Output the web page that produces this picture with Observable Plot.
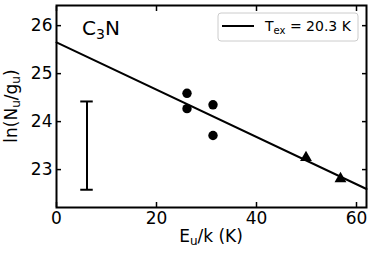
<!DOCTYPE html>
<html><head><meta charset="utf-8">
<script src="https://cdn.jsdelivr.net/npm/d3@7"></script>
<script src="https://cdn.jsdelivr.net/npm/@observablehq/plot@0.6"></script>
<style>
html,body{margin:0;padding:0;background:#fff;}
#chart{width:374px;height:257px;}
</style></head><body><div id="chart"></div>
<script>
// Data
const circleX = [26.1, 26.1, 31.3, 31.3];
const circleY = [24.59, 24.27, 24.35, 23.71];
const triX = [49.9, 56.8];
const triY = [23.25, 22.81];
const errX = [6.1];
const errLo = [22.58];
const errHi = [24.42];
const fitIntercept = 25.65;
const fitTex = 20.3;
const fitRange = [0, 62];
const xTicks = [0, 20, 40, 60];
const yTicks = [23, 24, 25, 26];

const circles = circleX.map((x, i) => ({x, y: circleY[i]}));
const tris = triX.map((x, i) => ({x, y: triY[i]}));
const errs = errX.map((x, i) => ({x, lo: errLo[i], hi: errHi[i]}));
const caps = errs.flatMap(d => [{x: d.x, y: d.lo}, {x: d.x, y: d.hi}]);
const fit = fitRange.map(x => ({x, y: fitIntercept - x / fitTex}));

const font = "DejaVu Sans, sans-serif";
const plot = Plot.plot({
  width: 374, height: 257,
  marginLeft: 56, marginRight: 8, marginTop: 5, marginBottom: 50,
  style: {fontFamily: font, fontSize: "17px", color: "black", background: "white"},
  x: {domain: [0, 62]},
  y: {domain: [22.21, 26.42]},
  marks: [
    Plot.axisX({ticks: xTicks, tickFormat: d3.format("d"), tickSize: -5, tickPadding: 9, label: null, fontSize: 17, strokeWidth: 1.5}),
    Plot.axisX({ticks: xTicks, anchor: "top", tickSize: -5, tickFormat: () => "", label: null, strokeWidth: 1.5}),
    Plot.axisY({ticks: yTicks, tickFormat: d3.format("d"), tickSize: -5, tickPadding: 9, label: null, fontSize: 17, strokeWidth: 1.5}),
    Plot.axisY({ticks: yTicks, anchor: "right", tickSize: -5, tickFormat: () => "", label: null, strokeWidth: 1.5}),
    Plot.line(fit, {x: "x", y: "y", stroke: "black", strokeWidth: 2}),
    Plot.ruleX(errs, {x: "x", y1: "lo", y2: "hi", stroke: "black", strokeWidth: 2}),
    Plot.ruleY(caps, {y: "y", x1: d => d.x - 1.25, x2: d => d.x + 1.25, stroke: "black", strokeWidth: 2}),
    Plot.dot(circles, {x: "x", y: "y", r: 4.7, fill: "black", symbol: "circle"}),
    Plot.dot(tris, {x: "x", y: "y", r: 4.4, fill: "black", symbol: "triangle"}),
    Plot.frame({stroke: "black", strokeWidth: 2})
  ]
});
document.getElementById("chart").appendChild(plot);

const svg = d3.select(plot);
function rich(parent, parts, size, subSize, shift) {
  let pending = 0;
  parts.forEach(p => {
    const ts = parent.append("tspan");
    if (p.sub) {
      ts.attr("font-size", subSize).attr("dy", shift + pending).text(p.sub);
      pending = -shift;
    } else {
      ts.attr("font-size", size).attr("dy", pending).text(p.t);
      pending = 0;
    }
  });
}
// y label
const yl = svg.append("text").attr("transform", "translate(17,106) rotate(-90)")
  .attr("text-anchor", "middle").attr("font-family", font).attr("font-size", 17).attr("fill", "black");
rich(yl, [{t: "ln(N"}, {sub: "u"}, {t: "/g"}, {sub: "u"}, {t: ")"}], 17, 12, 3);
// x label
const xl = svg.append("text").attr("x", 211).attr("y", 241.5)
  .attr("text-anchor", "middle").attr("font-family", font).attr("font-size", 17).attr("fill", "black");
rich(xl, [{t: "E"}, {sub: "u"}, {t: "/k (K)"}], 17, 12, 3);
// molecule label
const ml = svg.append("text").attr("x", 82).attr("y", 35).attr("text-anchor", "start")
  .attr("font-family", font).attr("font-size", 20).attr("fill", "black");
rich(ml, [{t: "C"}, {sub: "3"}, {t: "N"}], 20, 14, 4);
// legend
const lg = svg.append("g");
lg.append("rect").attr("x", 218).attr("y", 13).attr("width", 140).attr("height", 28).attr("rx", 3)
  .attr("fill", "white").attr("fill-opacity", 0.8).attr("stroke", "#cccccc").attr("stroke-width", 1);
lg.append("line").attr("x1", 222).attr("x2", 254).attr("y1", 26).attr("y2", 26)
  .attr("stroke", "black").attr("stroke-width", 2);
const lt = lg.append("text").attr("x", 265).attr("y", 31).attr("text-anchor", "start")
  .attr("xml:space", "preserve").style("white-space", "pre")
  .attr("font-family", font).attr("font-size", 14).attr("fill", "black");
rich(lt, [{t: "T"}, {sub: "ex"}, {t: " = 20.3 K"}], 14, 10, 3);
</script></body></html>
